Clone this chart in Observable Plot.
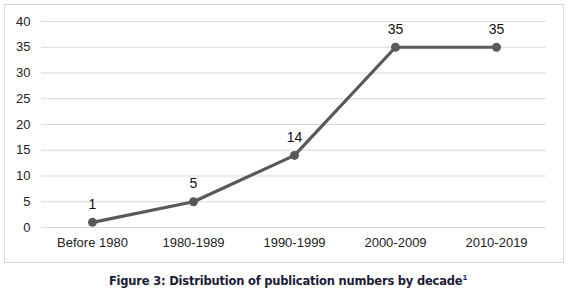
<!DOCTYPE html>
<html><head><meta charset="utf-8">
<script src="https://cdn.jsdelivr.net/npm/d3@7"></script>
<script src="https://cdn.jsdelivr.net/npm/@observablehq/plot@0.6"></script>
<style>
body{margin:0;background:#fff;width:574px;height:301px;position:relative;overflow:hidden;font-family:"Liberation Sans",Arial,sans-serif}
#frame{position:absolute;left:4px;top:4px;width:558px;height:257px;border:1px solid #d9d9d9}
#chart{position:absolute;left:0;top:0}
#caption{position:absolute;left:0;width:574px;top:274px;text-align:center;font-weight:bold;font-size:11.5px;color:#1b1b36;font-family:"DejaVu Sans",sans-serif;letter-spacing:-0.2px;padding-left:2px;box-sizing:border-box}
#caption sup{font-size:7px;color:#1b2a6b}
</style></head><body>
<div id="frame"></div>
<div id="chart"></div>
<div id="caption">Figure 3: Distribution of publication numbers by decade<sup>1</sup></div>
<script>
const categories = ["Before 1980","1980-1989","1990-1999","2000-2009","2010-2019"];
const counts = [1,5,14,35,35];
const yTicks = [0,5,10,15,20,25,30,35,40];

const data = categories.map((c,i)=>({decade:c,count:counts[i]}));

const chart = Plot.plot({
  width:574,height:265,
  marginLeft:41,marginRight:28,marginTop:21,marginBottom:38,
  style:{fontFamily:'"Liberation Sans",Arial,sans-serif',fontSize:"13px",color:"#222",background:"transparent"},
  x:{type:"point",domain:categories,padding:0.5,label:null},
  y:{domain:[0,40],ticks:yTicks,label:null},
  marks:[
    Plot.gridY(yTicks,{stroke:"#d9d9d9",strokeOpacity:1}),
    Plot.axisY({ticks:yTicks,tickSize:0,tickPadding:11,fontSize:13,label:null}),
    Plot.axisX({tickSize:0,tickPadding:10,fontSize:13,label:null}),
    Plot.line(data,{x:"decade",y:"count",stroke:"#595959",strokeWidth:3.2}),
    Plot.dot(data,{x:"decade",y:"count",fill:"#595959",r:4.5}),
    Plot.text(data,{x:"decade",y:"count",text:d=>String(d.count),dy:-18,fontSize:14,fill:"#111"})
  ]
});
document.getElementById("chart").appendChild(chart);
</script>
</body></html>
